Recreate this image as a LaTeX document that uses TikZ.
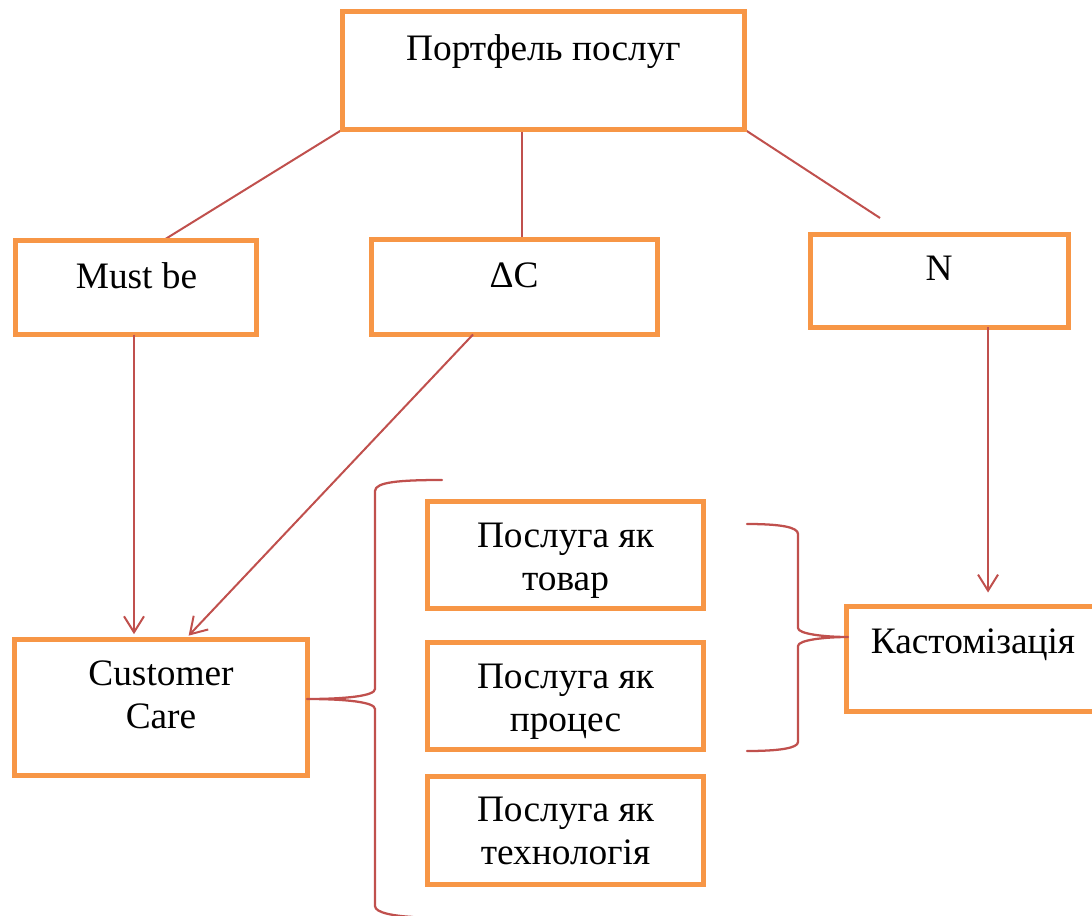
\documentclass[tikz,border=0pt]{standalone}
\usepackage{fontspec}
\setmainfont{Liberation Serif}
\usetikzlibrary{arrows.meta,backgrounds,calc}
\definecolor{boxorange}{HTML}{F79646}
\definecolor{linered}{HTML}{C0504D}
\tikzset{
  box/.style={draw=boxorange, line width=3.75pt, fill=white, rectangle, inner sep=0pt, outer sep=0pt},
  txt/.style={font=\fontsize{28}{32.25}\selectfont, align=center, anchor=base, inner sep=0pt, text=black},
  conn/.style={draw=linered, line width=1.5pt},
  arr/.style={conn, -{Straight Barb[length=12pt,width=15pt,line width=1.5pt]}},
  brace/.style={draw=linered, line width=1.7pt, line cap=round, line join=round}
}
\begin{document}
\begin{tikzpicture}[x=0.75pt,y=-0.75pt]
\path[use as bounding box] (0,0) rectangle (1092,916);
\clip (0,0) rectangle (1092,916);
% boxes
\node[box, minimum width=301.5pt, minimum height=88.5pt] (top) at (543.5,70.5) {};
\node[box, minimum width=180.75pt, minimum height=70.5pt] (mb) at (136,287.5) {};
\node[box, minimum width=214.5pt, minimum height=71.25pt] (dc) at (514.5,287) {};
\node[box, minimum width=193.5pt, minimum height=69pt] (nn) at (939.5,281) {};
\node[box, minimum width=219.75pt, minimum height=102pt] (cc) at (161,707.5) {};
\node[box, minimum width=207pt, minimum height=80.25pt] (p1) at (565.5,555) {};
\node[box, minimum width=207pt, minimum height=80.25pt] (p2) at (565.5,696) {};
\node[box, minimum width=207pt, minimum height=81pt] (p3) at (565.5,830) {};
\node[box, minimum width=195pt, minimum height=78.75pt] (k) at (976.5,659) {};
% texts
\node[txt] (topt) at (543.5,61) {Портфель послуг};
\node[txt] (mbt) at (136.5,288) {Must be};
\node[txt] (dct) at (514,287) {ΔC};
\node[txt] (nt) at (939,281) {N};
\node[txt] (cct) at (161,728) {Customer\\Care};
\node[txt] (p1t) at (565.5,590) {Послуга як\\товар};
\node[txt] (p2t) at (565.5,731) {Послуга як\\процес};
\node[txt] (p3t) at (565.5,864) {Послуга як\\технологія};
\node[txt] (kt) at (973,653) {Кастомізація};
% connectors
\coordinate (nend) at (880,218);
\begin{scope}[on background layer]
\draw[conn] (top.south west) -- ([xshift=20.25pt]mb.north);
\draw[conn] ([xshift=5.6pt]dc.north) -- ([xshift=5.6pt]dc.north |- top.south);
\draw[conn] (top.south east) -- (nend);
\end{scope}
\draw[arr, shorten >=4pt] ([xshift=-1.5pt]mb.south) -- ([xshift=-1.5pt]mb.south |- cc.north);
\draw[arr, shorten >=4pt] ([xshift=-31.1pt]dc.south) -- ([xshift=18pt]cc.north);
\draw[arr, shorten >=10.5pt] ([xshift=36.4pt]nn.south) -- ([xshift=36.4pt]nn.south |- k.north);
% braces
\coordinate (lbt) at (307,699);
\coordinate (rbt) at (848,637);
\draw[brace] (442,480) .. controls (400,480) and (375,482) .. (375,491) -- (375,689)
  .. controls (375,696) and (345,699) .. (lbt)
  .. controls (345,699) and (375,702) .. (375,709) -- (375,906)
  .. controls (375,913) and (395,916) .. (413,917);
\draw[brace] (747,524) .. controls (780,524) and (798,527) .. (798,534) -- (798,628)
  .. controls (798,634) and (825,637) .. (rbt)
  .. controls (825,637) and (798,640) .. (798,646) -- (798,742)
  .. controls (798,748) and (780,751) .. (747,751);
\end{tikzpicture}
\end{document}
